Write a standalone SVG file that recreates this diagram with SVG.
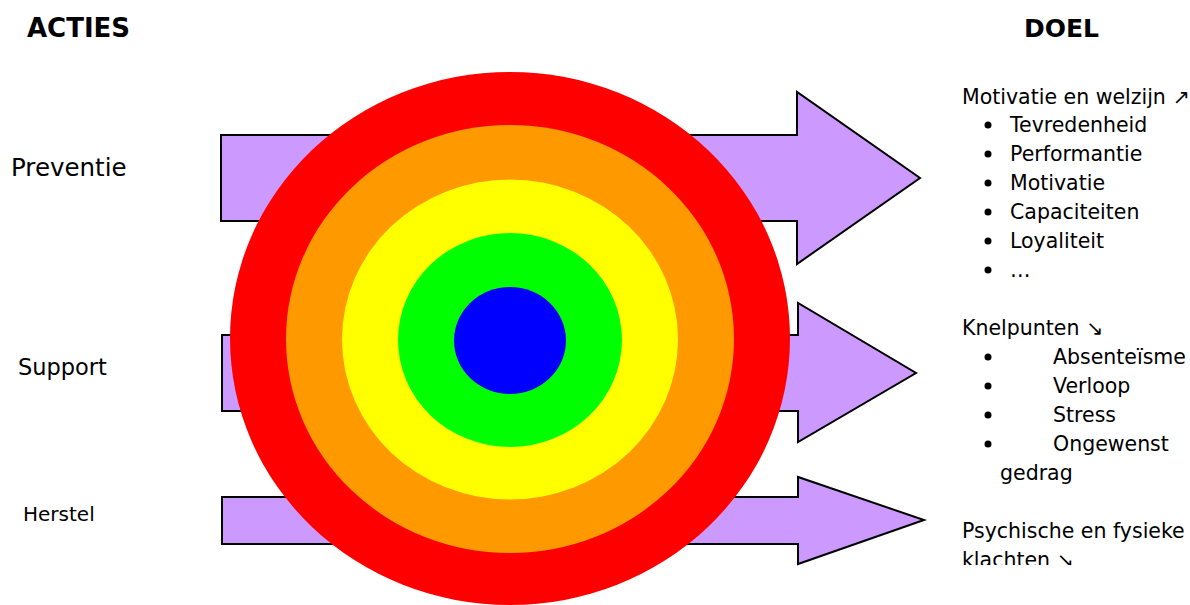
<svg xmlns="http://www.w3.org/2000/svg" width="1190" height="605" viewBox="0 0 1190 605">
<style>
.arrow{fill:#cc99ff;stroke:#000;stroke-width:2;stroke-linejoin:miter}
.t{font-family:"DejaVu Sans",Verdana,sans-serif;fill:#000}
.h{font-family:"DejaVu Sans",Verdana,sans-serif;font-weight:bold;fill:#000}
.r{font-size:20.5px}
</style>
<defs>
<clipPath id="clipText"><rect x="940" y="60" width="250" height="505"/></clipPath>
</defs>
<rect width="1190" height="605" fill="#fff"/>
<text class="h" x="27" y="37" font-size="26">ACTIES</text>
<text class="h" x="1024" y="37" font-size="25">DOEL</text>
<g id="connectors">
<polygon id="arrow-preventie" class="arrow" points="221,135 797,135 797,92 920,178 797,264 797,221 221,221"/>
<polygon id="arrow-support" class="arrow" points="222,335 798,335 798,303 916,373 798,442 798,411 222,411"/>
<polygon id="arrow-herstel" class="arrow" points="222,497 798,497 798,477 924,520 798,564 798,544 222,544"/>
</g>
<g id="target">
<ellipse cx="510" cy="338.5" rx="280" ry="266.5" fill="#ff0000"/>
<ellipse cx="510" cy="339" rx="224" ry="214" fill="#ff9900"/>
<ellipse cx="510" cy="339.5" rx="168" ry="160" fill="#ffff00"/>
<ellipse cx="510" cy="340" rx="112" ry="107" fill="#00ff00"/>
<ellipse cx="510" cy="340.5" rx="56" ry="53.5" fill="#0000ff"/>
</g>
<g id="label-preventie"><text class="t" x="11" y="176" font-size="24.5">Preventie</text></g>
<g id="label-support"><text class="t" x="18" y="375" font-size="22.5">Support</text></g>
<g id="label-herstel"><text class="t" x="23" y="521" font-size="20">Herstel</text></g>
<g id="goals" clip-path="url(#clipText)">
<g id="goal-motivatie" class="t r">
<text x="962" y="104">Motivatie en welzijn ↗</text>
<circle cx="988" cy="125" r="3.5"/><text x="1010" y="132">Tevredenheid</text>
<circle cx="988" cy="154" r="3.5"/><text x="1010" y="161">Performantie</text>
<circle cx="988" cy="183" r="3.5"/><text x="1010" y="190">Motivatie</text>
<circle cx="988" cy="212" r="3.5"/><text x="1010" y="219">Capaciteiten</text>
<circle cx="988" cy="241" r="3.5"/><text x="1010" y="248">Loyaliteit</text>
<circle cx="988" cy="270" r="3.5"/><text x="1010" y="277">…</text>
</g>
<g id="goal-knelpunten" class="t r">
<text x="962" y="335">Knelpunten ↘</text>
<circle cx="988" cy="357" r="3.5"/><text x="1053" y="364">Absenteïsme</text>
<circle cx="988" cy="386" r="3.5"/><text x="1053" y="393">Verloop</text>
<circle cx="988" cy="415" r="3.5"/><text x="1053" y="422">Stress</text>
<circle cx="988" cy="444" r="3.5"/><text x="1053" y="451">Ongewenst</text>
<text x="1000" y="480">gedrag</text>
</g>
<g id="goal-klachten" class="t r">
<text x="962" y="538">Psychische en fysieke</text>
<text x="962" y="567">klachten ↘</text>
</g>
</g>
</svg>
